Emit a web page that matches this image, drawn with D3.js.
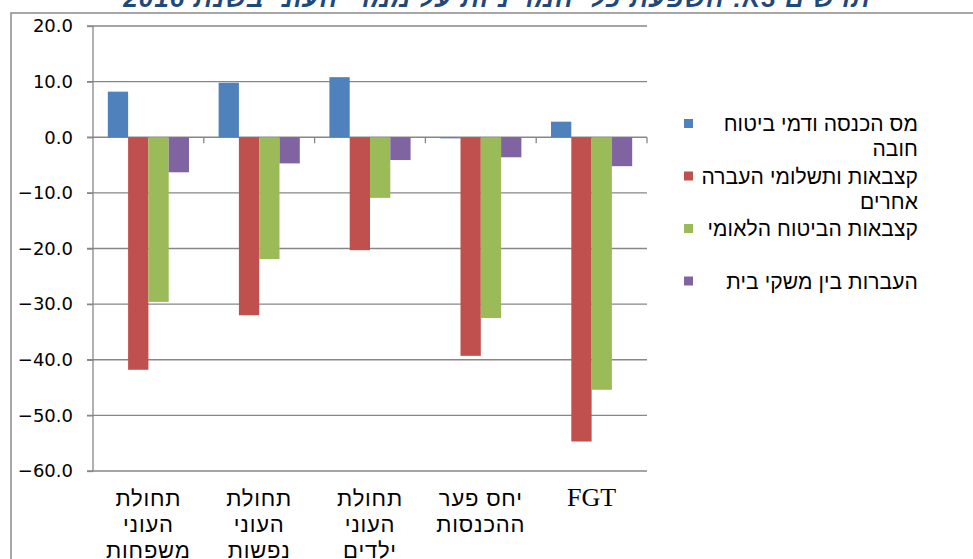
<!DOCTYPE html>
<html>
<head>
<meta charset="utf-8">
<script src="https://cdn.jsdelivr.net/npm/d3@7"></script>
<style>
  body { margin: 0; background: #fff; }
  svg { display: block; }
</style>
</head>
<body>
<div id="chart"></div>
<script>
// data
const categories = ['families', 'persons', 'children', 'gap', 'fgt'];
const categoryLabels = [
    ['תחולת', 'העוני', 'משפחות'],
    ['תחולת', 'העוני', 'נפשות'],
    ['תחולת', 'העוני', 'ילדים'],
    ['יחס פער', 'ההכנסות'],
    ['FGT']
];
const seriesNames = [
    ['מס הכנסה ודמי ביטוח', 'חובה'],
    ['קצבאות ותשלומי העברה', 'אחרים'],
    ['קצבאות הביטוח הלאומי'],
    ['העברות בין משקי בית']
];
const taxValues = [8.2, 9.8, 10.8, -0.2, 2.8];
const allowanceValues = [-41.8, -32.0, -20.3, -39.3, -54.7];
const niValues = [-29.6, -21.9, -10.9, -32.5, -45.4];
const householdValues = [-6.3, -4.7, -4.1, -3.6, -5.2];
const yTicks = [20, 10, 0, -10, -20, -30, -40, -50, -60];
const colors = ['#4F81BD', '#C0504D', '#9BBB59', '#8064A2'];

const title = "תרשים 3א: השפעת כלי המדיניות על ממדי העוני בשנת 2016";

const series = [taxValues, allowanceValues, niValues, householdValues];

const W = 973, H = 559;
const plot = {left: 93, right: 647, top: 26, bottom: 471};
const gridColor = '#878787';
const hebFont = '"Liberation Sans", "DejaVu Sans", sans-serif';

const svg = d3.select('#chart').append('svg')
    .attr('width', W)
    .attr('height', H);

// title, mostly cut off above the frame
svg.append('text')
    .attr('x', 497)
    .attr('y', 7)
    .attr('text-anchor', 'middle')
    .attr('direction', 'rtl')
    .style('font-family', hebFont)
    .style('font-size', '26px')
    .style('letter-spacing', '1px')
    .style('font-weight', 'bold')
    .style('font-style', 'italic')
    .style('fill', '#1F497D')
    .text(title);

// outer frame
svg.append('rect')
    .attr('x', 11)
    .attr('y', 13)
    .attr('width', 975)
    .attr('height', 600)
    .attr('fill', 'none')
    .attr('stroke', '#8a8a8a')
    .attr('stroke-width', 1.5);

const x0 = d3.scaleBand()
    .domain(categories)
    .range([plot.left, plot.right])
    .padding(0);

const x1 = d3.scaleBand()
    .domain(d3.range(series.length))
    .range([0, x0.bandwidth()])
    .paddingInner(0)
    .paddingOuter(0.73);

const y = d3.scaleLinear()
    .domain([-60, 20])
    .range([plot.bottom, plot.top]);

// gridlines
svg.append('g')
    .selectAll('line')
    .data(yTicks)
    .enter()
    .append('line')
    .attr('x1', plot.left - 6)
    .attr('x2', plot.right)
    .attr('y1', d => y(d))
    .attr('y2', d => y(d))
    .attr('stroke', gridColor)
    .attr('stroke-width', 1.3);

// bars
const groups = svg.append('g')
    .selectAll('g')
    .data(categories)
    .enter()
    .append('g')
    .attr('transform', d => `translate(${x0(d)},0)`);

groups.selectAll('rect')
    .data((d, i) => series.map((s, j) => ({series: j, value: s[i]})))
    .enter()
    .append('rect')
    .attr('x', d => x1(d.series))
    .attr('width', x1.bandwidth())
    .attr('y', d => y(Math.max(0, d.value)))
    .attr('height', d => Math.abs(y(d.value) - y(0)))
    .attr('fill', d => colors[d.series]);

// Y axis
const yAxis = svg.append('g')
    .attr('transform', `translate(${plot.left},0)`)
    .call(d3.axisLeft(y).tickValues(yTicks).tickSize(6).tickPadding(14)
        .tickFormat(d3.format('.1f')));
yAxis.select('.domain').remove();
yAxis.selectAll('.tick line').attr('stroke', gridColor).attr('stroke-width', 1.3);
yAxis.selectAll('.tick text')
    .style('font-family', '"DejaVu Sans", sans-serif')
    .style('font-size', '18px')
    .style('fill', '#000');
svg.append('line')
    .attr('x1', plot.left).attr('x2', plot.left)
    .attr('y1', plot.top).attr('y2', plot.bottom)
    .attr('stroke', gridColor)
    .attr('stroke-width', 1.3);

// X axis on the zero line, category ticks pointing down
svg.append('g')
    .selectAll('line')
    .data(categories)
    .enter()
    .append('line')
    .attr('x1', d => x0(d) + x0.bandwidth())
    .attr('x2', d => x0(d) + x0.bandwidth())
    .attr('y1', y(0))
    .attr('y2', y(0) + 6)
    .attr('stroke', gridColor)
    .attr('stroke-width', 1.3);

// category labels under the plot
const catLabels = svg.append('g')
    .selectAll('text')
    .data(categories)
    .enter()
    .append('text')
    .attr('x', d => x0(d) + x0.bandwidth() / 2)
    .attr('y', 506)
    .attr('text-anchor', 'middle')
    .attr('direction', 'rtl')
    .style('fill', '#000')
    .style('font-family', (d, i) => categoryLabels[i][0] === 'FGT'
        ? '"Liberation Serif", serif' : hebFont)
    .style('font-size', (d, i) => categoryLabels[i][0] === 'FGT' ? '26px' : '22px')
    .style('letter-spacing', (d, i) => categoryLabels[i][0] === 'FGT' ? '0px' : '0.8px');

catLabels.selectAll('tspan')
    .data((d, i) => categoryLabels[i])
    .enter()
    .append('tspan')
    .attr('x', function() { return d3.select(this.parentNode).attr('x') })
    .attr('dy', (d, i) => i === 0 ? 0 : 26)
    .text(d => d);

// legend
const legendRight = 918;
const legend = svg.append('g')
    .selectAll('g')
    .data(seriesNames)
    .enter()
    .append('g')
    .attr('transform', (d, i) => `translate(0, ${131 + i * 52.5})`);

legend.append('rect')
    .attr('x', 684)
    .attr('y', -12)
    .attr('width', 9)
    .attr('height', 9)
    .attr('fill', (d, i) => colors[i]);

legend.append('text')
    .attr('direction', 'rtl')
    .attr('text-anchor', 'start')
    .style('font-family', hebFont)
    .style('font-size', '21px')
    .style('letter-spacing', '0.1px')
    .style('fill', '#000')
    .selectAll('tspan')
    .data(d => d)
    .enter()
    .append('tspan')
    .attr('x', legendRight)
    .attr('y', (d, i) => i * 25)
    .text(d => d);
</script>
</body>
</html>
